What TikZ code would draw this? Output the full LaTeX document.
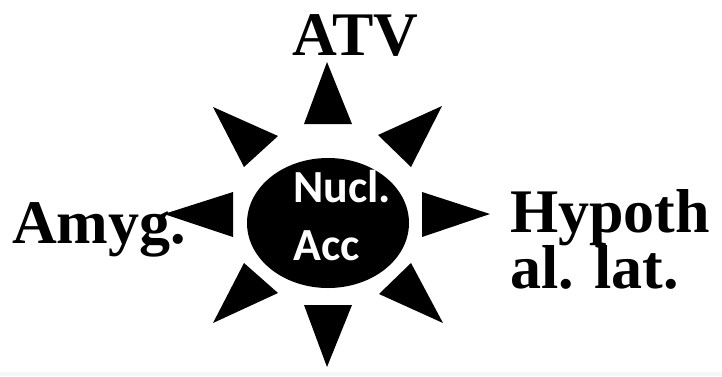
\documentclass[tikz,border=0pt]{standalone}
\usepackage{fontspec}
\setmainfont{Liberation Serif}
\newfontfamily\calib{Carlito}
\begin{document}
\begin{tikzpicture}[x=1pt,y=-1pt,
  lbl/.style={anchor=base west,inner sep=0pt,font=\fontsize{62}{56}\selectfont\bfseries},
  inlbl/.style={anchor=base west,inner sep=0pt,text=white,font=\calib\fontsize{46}{50}\selectfont\bfseries},
  ray/.style={fill=black}]
\useasboundingbox (0,0) rectangle (722,376);
\fill[black!3] (0,372) rectangle (722,376);
% labels
\node[lbl] (atv) at (292,55) {ATV};
\node[lbl] (amyg) at (12,243) {Amyg.};
\node[lbl] (hyp1) at (510,232) {Hypoth};
\node[lbl] (hyp2) at (510,288) {al. lat.};
% centre
\fill[black] (328,223) ellipse [x radius=81,y radius=65];
\node[inlbl] (nucl) at (293,202) {Nucl.};
\node[inlbl] (acc) at (293,260) {Acc};
% rays
\fill[ray] (327,62) -- (352,124) -- (304,124) -- cycle;
\fill[ray] (327,367) -- (352,305) -- (304,305) -- cycle;
\fill[ray] (490,214) -- (422,192) -- (422,237) -- cycle;
\fill[ray] (164,214) -- (233,192) -- (233,237) -- cycle;
\fill[ray] (213,107) -- (278,136) -- (244,167) -- cycle;
\fill[ray] (442,106) -- (378,135) -- (411,167) -- cycle;
\fill[ray] (213,323) -- (244,263) -- (278,293) -- cycle;
\fill[ray] (443,323) -- (411,263) -- (379,294) -- cycle;
\end{tikzpicture}
\end{document}
